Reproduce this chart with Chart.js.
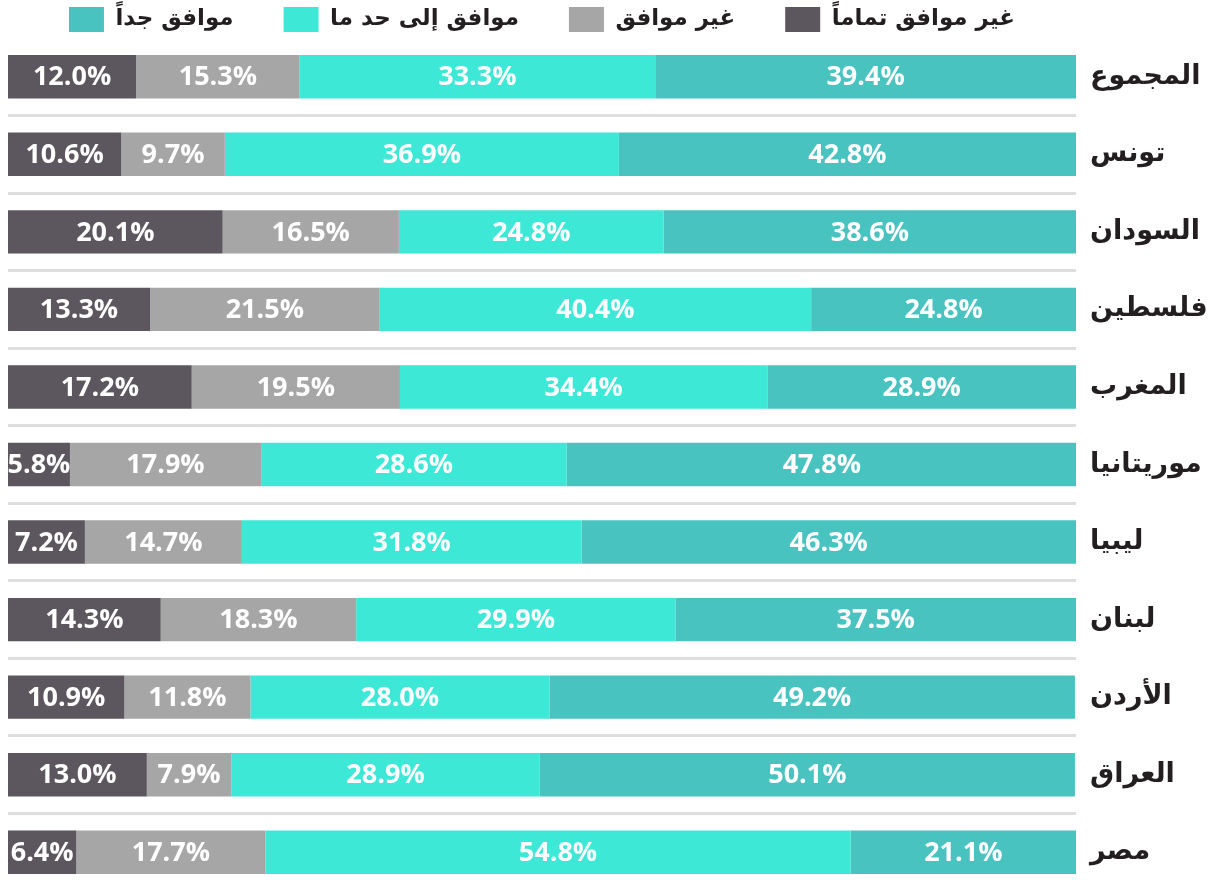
<!DOCTYPE html>
<html lang="ar">
<head>
<meta charset="utf-8">
<title>Stacked bars</title>
<script src="https://cdn.jsdelivr.net/npm/chart.js@4.4.1/dist/chart.umd.min.js"></script>
<style>
    html, body { margin: 0; padding: 0; background: #ffffff; overflow: hidden; }
    #wrap { width: 1216px; height: 891px; position: relative; }
</style>
</head>
<body>
<div id="wrap"><canvas id="chart"></canvas></div>
<script>
// categories, top to bottom
const countries = ['المجموع', 'تونس', 'السودان', 'فلسطين', 'المغرب', 'موريتانيا', 'ليبيا', 'لبنان', 'الأردن', 'العراق', 'مصر'];

// series names (legend)
const seriesNames = ['غير موافق تماماً', 'غير موافق', 'موافق إلى حد ما', 'موافق جداً'];

// values in percent
const stronglyDisagree = [12.0, 10.6, 20.1, 13.3, 17.2, 5.8, 7.2, 14.3, 10.9, 13.0, 6.4];
const disagree         = [15.3, 9.7, 16.5, 21.5, 19.5, 17.9, 14.7, 18.3, 11.8, 7.9, 17.7];
const somewhatAgree    = [33.3, 36.9, 24.8, 40.4, 34.4, 28.6, 31.8, 29.9, 28.0, 28.9, 54.8];
const stronglyAgree    = [39.4, 42.8, 38.6, 24.8, 28.9, 47.8, 46.3, 37.5, 49.2, 50.1, 21.1];

const colors = ['#5c575e', '#a6a6a6', '#3ee8d6', '#48c3bf'];

// white percentage labels centered in every segment, clipped to the plot
const segmentLabels = {
    id: 'segmentLabels',
    afterDatasetsDraw(chart) {
        const ctx = chart.ctx;
        const area = chart.chartArea;
        ctx.save();
        ctx.beginPath();
        ctx.rect(area.left, area.top, area.right - area.left, area.bottom - area.top);
        ctx.clip();
        ctx.fillStyle = '#ffffff';
        ctx.font = 'bold 27px "Open Sans", sans-serif';
        ctx.textAlign = 'center';
        ctx.textBaseline = 'middle';
        chart.data.datasets.forEach((ds, i) => {
            const meta = chart.getDatasetMeta(i);
            meta.data.forEach((bar, j) => {
                const cx = (bar.x + bar.base) / 2;
                ctx.fillText(ds.data[j].toFixed(1) + '%', cx, bar.y + 1);
            });
        });
        ctx.restore();
    }
};

const legendPad = 50;

new Chart(document.getElementById('chart'), {
    type: 'bar',
    data: {
        labels: countries,
        datasets: [
            { label: seriesNames[0], data: stronglyDisagree, backgroundColor: colors[0] },
            { label: seriesNames[1], data: disagree, backgroundColor: colors[1] },
            { label: seriesNames[2], data: somewhatAgree, backgroundColor: colors[2] },
            { label: seriesNames[3], data: stronglyAgree, backgroundColor: colors[3] }
        ]
    },
    options: {
        indexAxis: 'y',
        responsive: true,
        maintainAspectRatio: false,
        animation: false,
        layout: { padding: { left: 8, right: 0, top: 7 - legendPad, bottom: 0 } },
        datasets: {
            bar: { categoryPercentage: 1, barPercentage: 0.56, borderWidth: 0 }
        },
        plugins: {
            tooltip: { enabled: false },
            legend: {
                position: 'top',
                fullSize: false,
                reverse: true,
                maxHeight: legendPad + 31,
                labels: {
                    boxWidth: 35,
                    boxHeight: 25,
                    padding: legendPad,
                    color: '#231f20',
                    font: { family: '"DejaVu Sans", sans-serif', size: 23, weight: 'bold' }
                }
            }
        },
        scales: {
            x: {
                stacked: true,
                display: false,
                min: 0,
                max: 100
            },
            y: {
                stacked: true,
                position: 'right',
                afterFit(scale) {
                    scale.width = 140;
                    scale.paddingTop = 0;
                    scale.paddingBottom = 0;
                },
                border: { display: false },
                grid: {
                    offset: true,
                    drawTicks: false,
                    lineWidth: 3,
                    color: (c) => c.index === 0 ? 'rgba(0,0,0,0)' : '#dedede'
                },
                ticks: {
                    padding: 14,
                    color: '#231f20',
                    font: { family: '"DejaVu Sans", sans-serif', size: 27, weight: 'bold' }
                }
            }
        }
    },
    plugins: [segmentLabels]
});
</script>
</body>
</html>
